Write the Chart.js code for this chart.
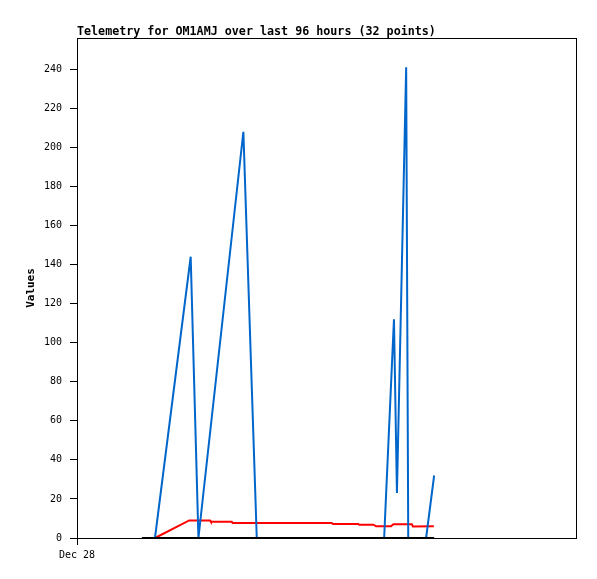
<!DOCTYPE html>
<html>
<head>
<meta charset="utf-8">
<script src="https://cdn.jsdelivr.net/npm/chart.js@4"></script>
<style>
  body { margin: 0; background: #fff; }
  canvas { display: block; }
</style>
</head>
<body>
<canvas id="telemetry" width="597" height="579"></canvas>
<script>
// hours since Dec 28 00:00
const blueHours  = [26.2, 38.2, 40.8, 55.9, 60.4, 103.2, 106.5, 107.5, 110.6, 111.3, 117.3, 120.0];
const blueValues = [0, 144, 0, 208, 0, 0, 112, 23, 241, 0, 0, 32];

const redHours  = [26.2, 37.7, 44.7, 45.0, 52.0, 52.3, 85.6, 86.0, 94.5, 94.8, 99.6, 100.5, 105.5, 106.3, 112.5, 112.9, 119.9];
const redValues = [0, 9, 9, 8.3, 8.3, 7.7, 7.7, 7.2, 7.2, 6.8, 6.8, 6, 6, 7, 7, 5.9, 6];

const blackHours  = [21.8, 120.0];
const blackValues = [0, 0];

const yTicks = [0, 20, 40, 60, 80, 100, 120, 140, 160, 180, 200, 220, 240];
const xTickLabel = 'Dec 28';
const titleText = 'Telemetry for OM1AMJ over last 96 hours (32 points)';

function toPoints(xs, ys) {
    return xs.map((x, i) => ({ x: x, y: ys[i] }));
}

const frame = {
    id: 'frame',
    afterDraw(chart) {
        const { ctx, chartArea: a } = chart;
        ctx.save();
        ctx.strokeStyle = '#000';
        ctx.lineWidth = 1;
        ctx.strokeRect(a.left + 0.5, a.top + 0.5, a.right - a.left - 1, a.bottom - a.top);
        ctx.fillStyle = '#000';
        ctx.font = 'bold 11.7px "DejaVu Sans Mono"';
        ctx.textBaseline = 'alphabetic';
        ctx.textAlign = 'left';
        ctx.fillText(titleText, a.left, 35);
        ctx.restore();
    }
};

const lineStyle = { fill: false, tension: 0, pointRadius: 0, borderWidth: 2, clip: false };

new Chart(document.getElementById('telemetry'), {
    type: 'line',
    data: {
        datasets: [
            Object.assign({ data: toPoints(blackHours, blackValues), borderColor: '#000000', order: 0 }, lineStyle),
            Object.assign({ data: toPoints(blueHours, blueValues), borderColor: '#0066cc', order: 1 }, lineStyle),
            Object.assign({ data: toPoints(redHours, redValues), borderColor: '#ff0000', order: 2 }, lineStyle)
        ]
    },
    options: {
        responsive: false,
        animation: false,
        layout: { padding: { top: 38, right: 20, left: 0, bottom: 0 } },
        plugins: { legend: { display: false }, title: { display: false }, tooltip: { enabled: false } },
        scales: {
            x: {
                type: 'linear',
                min: 0,
                max: 168,
                afterBuildTicks: axis => { axis.ticks = [{ value: 0 }]; },
                afterFit: axis => { axis.height = 41; },
                ticks: {
                    color: '#000',
                    font: { family: 'DejaVu Sans Mono', size: 10 },
                    padding: 4,
                    maxRotation: 0,
                    callback: () => xTickLabel
                },
                grid: { display: true, drawOnChartArea: false, drawTicks: true, tickLength: 7, color: '#000' },
                border: { display: false }
            },
            y: {
                type: 'linear',
                min: 0,
                max: 256,
                afterBuildTicks: axis => { axis.ticks = yTicks.map(v => ({ value: v })); },
                afterFit: axis => { axis.width = 77; },
                ticks: {
                    color: '#000',
                    font: { family: 'DejaVu Sans Mono', size: 10 },
                    padding: 8
                },
                grid: { display: true, drawOnChartArea: false, drawTicks: true, tickLength: 7, color: '#000' },
                border: { display: false },
                title: {
                    display: true,
                    text: 'Values',
                    color: '#000',
                    font: { family: 'DejaVu Sans Mono', size: 11, weight: 'bold' },
                    padding: { top: 25, bottom: 0 }
                }
            }
        }
    },
    plugins: [frame]
});
</script>
</body>
</html>
